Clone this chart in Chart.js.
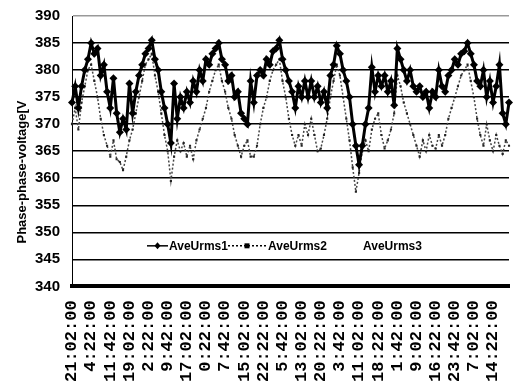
<!DOCTYPE html>
<html lang="en">
<head>
<meta charset="UTF-8">
<title>Phase-phase voltage</title>
<script src="https://cdn.jsdelivr.net/npm/chart.js"></script>
<style>
    body { margin: 0; background: #fff; }
</style>
</head>
<body>
<canvas id="myChart" width="513" height="381"></canvas>

<script>
    // tick labels along the x axis (one every 7h20m)
    var tickLabels = ['21:02:00', '4:22:00', '11:42:00', '19:02:00', '2:22:00', '9:42:00', '17:02:00',
        '0:22:00', '7:42:00', '15:02:00', '22:22:00', '5:42:00', '13:02:00', '20:22:00', '3:42:00',
        '11:02:00', '18:22:00', '1:42:00', '9:02:00', '16:22:00', '23:42:00', '7:02:00', '14:22:00'];
    var pointsPerTick = 6;

    var yTicks = [340, 345, 350, 355, 360, 365, 370, 375, 380, 385, 390];

    var aveUrms1 = [374, 377, 373, 377, 380, 382, 385, 383, 384, 379,
        381, 376, 373, 378.5, 372, 368.5, 371, 369, 377.5, 372,
        376, 379, 381, 383, 384, 385.5, 382, 380, 376, 373,
        370, 366.5, 377.5, 371, 375, 373, 376, 374, 378, 376,
        380, 378, 382, 381, 383, 384, 385, 382, 381, 378,
        379, 375, 376, 372, 371, 370, 378, 374, 379, 380,
        379, 382, 381, 383.5, 384, 385.5, 382, 380, 378, 376,
        373, 377, 375, 378, 375, 378, 375, 377, 374, 376,
        373, 379, 381, 384.5, 383, 380, 378, 375, 370, 366,
        362.5, 366, 370, 373, 380.5, 376, 379, 377, 379, 376,
        378, 373.5, 384, 382, 380, 378, 380, 377, 376, 377,
        375, 376, 373, 376, 375, 380, 377, 376, 379, 380,
        382, 381, 383, 383.5, 385, 383, 381, 378, 377, 380,
        375, 378, 374, 377, 381, 372, 370, 374];

    var aveUrms2 = [370, 373, 369, 374, 377, 380, 381, 378, 375, 371,
        368, 366, 364, 367, 363.5, 363, 361.5, 364, 367, 369,
        372, 375, 378, 381, 382, 383, 379, 376, 372, 368,
        365, 359.5, 364, 367, 365, 366.5, 364, 366, 363.5, 367,
        369, 371, 373, 376, 378, 380, 381, 378, 376, 373,
        371, 368, 366, 364, 366, 367, 364, 364, 366, 370,
        373, 375, 378, 380, 381, 382, 378, 375, 371, 368,
        366, 368, 366, 370, 368, 371, 368, 365, 365.5, 368,
        371, 375, 378, 381, 379, 375, 371, 367, 362, 357.5,
        361, 365, 367, 365, 369, 371, 372, 368, 365.5, 367,
        369, 372, 379, 377, 374, 372, 370, 368, 366, 364,
        367, 365, 368, 366, 365.5, 368, 366, 368, 371, 373,
        375, 377, 379, 380, 381, 378, 375, 371, 368, 366,
        370, 367, 365, 368, 366, 364.5, 367, 366];

    var aveUrms3 = [];

    // category labels: a tick label every pointsPerTick points, blanks between
    var labels = aveUrms1.map(function(v, i) {
        return i % pointsPerTick === 0 ? (tickLabels[i / pointsPerTick] || '') : '';
    });

    // y axis title, drawn by hand so it can sit off-centre like the original
    var yTitle = {
        id: 'yTitle',
        afterDraw: function(chart) {
            var ctx = chart.ctx;
            ctx.save();
            ctx.translate(22, 172);
            ctx.rotate(-Math.PI / 2);
            ctx.font = 'bold 13px "Liberation Sans", Arial, sans-serif';
            ctx.fillStyle = '#000';
            ctx.textAlign = 'center';
            ctx.textBaseline = 'middle';
            ctx.fillText('Phase-phase-voltage[V', 0, 0);
            ctx.restore();
        }
    };

    // legend inside the plot, in the 345-350 band
    var innerLegend = {
        id: 'innerLegend',
        afterDatasetsDraw: function(chart) {
            var ctx = chart.ctx;
            var y = chart.scales.y.getPixelForValue(347.5);
            var slots = [[147, 168, 169], [228, 266, 268], [0, 0, 363]];
            ctx.save();
            ctx.font = 'bold 12px "Liberation Sans", Arial, sans-serif';
            ctx.textBaseline = 'middle';
            chart.data.datasets.forEach(function(ds, k) {
                var s = slots[k];
                if (ds.borderWidth > 0) {
                    ctx.strokeStyle = '#000';
                    ctx.lineWidth = 1.5;
                    ctx.setLineDash(ds.borderDash || []);
                    ctx.beginPath();
                    ctx.moveTo(s[0], y);
                    ctx.lineTo(s[1], y);
                    ctx.stroke();
                    ctx.setLineDash([]);
                    var mx = (s[0] + s[1]) / 2;
                    ctx.fillStyle = '#000';
                    ctx.beginPath();
                    if (ds.pointStyle === 'rectRot') {
                        ctx.moveTo(mx, y - 3.5);
                        ctx.lineTo(mx + 3, y);
                        ctx.lineTo(mx, y + 3.5);
                        ctx.lineTo(mx - 3, y);
                    } else {
                        ctx.rect(mx - 2.5, y - 2.5, 5, 5);
                    }
                    ctx.fill();
                }
                ctx.fillStyle = '#000';
                ctx.fillText(ds.label, s[2], y + 0.5);
            });
            ctx.restore();
        }
    };

    var ctx = document.getElementById('myChart').getContext('2d');
    var myChart = new Chart(ctx, {
        type: 'line',
        data: {
            labels: labels,
            datasets: [
                {
                    label: 'AveUrms1',
                    data: aveUrms1,
                    borderColor: '#000',
                    backgroundColor: '#000',
                    borderWidth: 3,
                    pointStyle: 'rectRot',
                    pointRadius: 4,
                    pointBorderWidth: 0,
                    tension: 0
                },
                {
                    label: 'AveUrms2',
                    data: aveUrms2,
                    borderColor: '#444',
                    backgroundColor: '#222',
                    borderWidth: 1.5,
                    borderDash: [2, 2],
                    pointStyle: 'rect',
                    pointRadius: 1.5,
                    pointBorderWidth: 0,
                    tension: 0
                },
                {
                    label: 'AveUrms3',
                    data: aveUrms3,
                    borderColor: '#fff',
                    borderWidth: 0,
                    pointRadius: 0
                }
            ]
        },
        options: {
            responsive: false,
            animation: false,
            events: [],
            layout: { padding: { left: 25, right: 3, top: 16, bottom: -7 } },
            plugins: {
                legend: { display: false },
                tooltip: { enabled: false }
            },
            scales: {
                x: {
                    grid: { display: false },
                    border: { display: true, color: '#000', width: 4 },
                    afterFit: function(scale) {
                        scale.paddingRight = 0;
                        scale.paddingLeft = 0;
                    },
                    ticks: {
                        autoSkip: false,
                        minRotation: 90,
                        maxRotation: 90,
                        padding: 6,
                        color: '#000',
                        font: { family: '"Liberation Mono", monospace', size: 17, weight: 'bold' }
                    }
                },
                y: {
                    min: 340,
                    max: 390,
                    afterBuildTicks: function(scale) {
                        scale.ticks = yTicks.map(function(v) { return { value: v }; });
                    },
                    afterFit: function(scale) {
                        scale.width = 47;
                        scale.paddingTop = 0;
                        scale.paddingBottom = 0;
                    },
                    grid: {
                        drawTicks: false,
                        color: function(c) { return c.tick && c.tick.value === 390 ? '#999' : '#000'; },
                        lineWidth: function(c) { return c.tick && c.tick.value === 340 ? 0 : 1.5; }
                    },
                    border: { display: true, color: '#000', width: 1 },
                    ticks: {
                        padding: 12,
                        color: '#000',
                        font: { family: '"Liberation Sans", Arial, sans-serif', size: 15, weight: 'bold' }
                    }
                }
            }
        },
        plugins: [yTitle, innerLegend]
    });
</script>

</body>
</html>
